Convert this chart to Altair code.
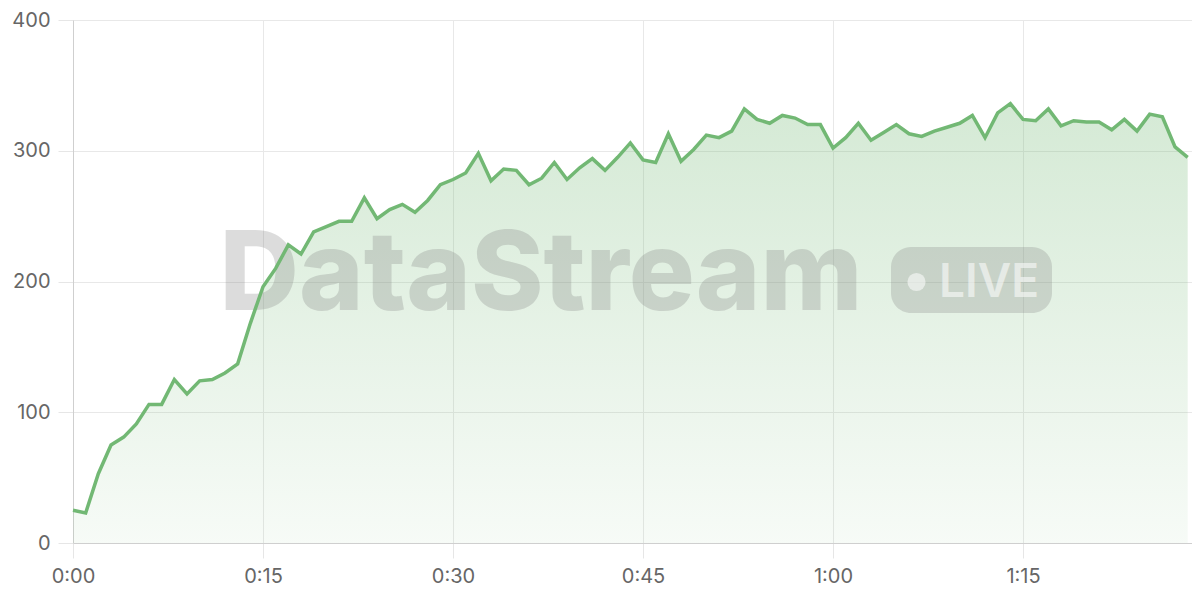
import altair as alt
import pandas as pd

minutes = list(range(89))
values = [25, 23, 53, 75, 81, 91, 106, 106, 125, 114, 124, 125, 130, 137,
          168, 196, 210, 228, 221, 238, 242, 246, 246, 264, 248, 255, 259, 253,
          262, 274, 278, 283, 298, 277, 286, 285, 274, 279, 291, 278, 287, 294,
          285, 295, 306, 293, 291, 313, 292, 301, 312, 310, 315, 332, 324, 321,
          327, 325, 320, 320, 302, 310, 321, 308, 314, 320, 313, 311, 315, 318,
          321, 327, 310, 329, 336, 324, 323, 332, 319, 323, 322, 322, 316, 324,
          315, 328, 326, 303, 295]
x_ticks = [0, 15, 30, 45, 60, 75]
y_ticks = [0, 100, 200, 300, 400]

df = pd.DataFrame({"t": minutes, "v": values})

FONT = "Inter"
LINE = "#72b874"

x_enc = alt.X(
    "t:Q",
    scale=alt.Scale(domain=[0, 88.34], nice=False, zero=True),
    axis=alt.Axis(
        values=x_ticks,
        labelExpr="floor(datum.value/60) + ':' + (datum.value % 60 < 10 ? '0' : '') + (datum.value % 60)",
        title=None,
        grid=True,
        gridColor="#e8e8e8",
        tickColor="#e6e6e6",
        tickSize=15,
        domainColor="#cfcfcf",
        labelFontSize=20,
        labelColor="#666666",
        labelFont=FONT,
        labelPadding=8,
        labelFlush=False,
    ),
)
y_enc = alt.Y(
    "v:Q",
    scale=alt.Scale(domain=[0, 400], nice=False),
    axis=alt.Axis(
        values=y_ticks,
        title=None,
        grid=True,
        gridColor="#e8e8e8",
        tickColor="#e6e6e6",
        tickSize=15,
        domainColor="#cfcfcf",
        labelFontSize=20,
        labelColor="#666666",
        labelFont=FONT,
        labelPadding=8,
    ),
)

base = alt.Chart(df)

area = base.mark_area(
    color=alt.Gradient(
        gradient="linear",
        x1=1, y1=1, x2=1, y2=0,
        stops=[
            alt.GradientStop(color="rgba(114,184,116,0.06)", offset=0),
            alt.GradientStop(color="rgba(114,184,116,0.30)", offset=1),
        ],
    ),
    interpolate="linear",
).encode(x=x_enc, y=y_enc)

wm = alt.Chart(pd.DataFrame({"k": [0]}))

wm_text = wm.mark_text(
    text="DataStream", font=FONT, fontSize=110, fontWeight=800,
    color="#808080", opacity=0.27, align="center", baseline="alphabetic",
).encode(x=alt.value(468), y=alt.value(290))

pill = wm.mark_rect(
    color="#808080", opacity=0.27, cornerRadius=20,
).encode(x=alt.value(818), x2=alt.value(979), y=alt.value(227), y2=alt.value(293))

dot = wm.mark_point(
    shape="circle", filled=True, size=330, color="#ffffff", opacity=0.55,
).encode(x=alt.value(843.5), y=alt.value(262))

live = wm.mark_text(
    text="LIVE", font=FONT, fontSize=46, fontWeight=600,
    color="#ffffff", opacity=0.55, align="left", baseline="alphabetic",
).encode(x=alt.value(866), y=alt.value(277))

line = base.mark_line(color=LINE, strokeWidth=3.5, interpolate="linear").encode(
    x=x_enc, y=y_enc
)

chart = alt.layer(area, wm_text, pill, dot, live, line).properties(
    width=1119,
    height=523,
    autosize=alt.AutoSizeParams(type="none"),
    padding={"left": 65, "top": 12, "right": 0, "bottom": 49},
    background="white",
).configure_view(stroke=None)

chart.save("out.html", embed_options={"renderer": "svg", "actions": False})
